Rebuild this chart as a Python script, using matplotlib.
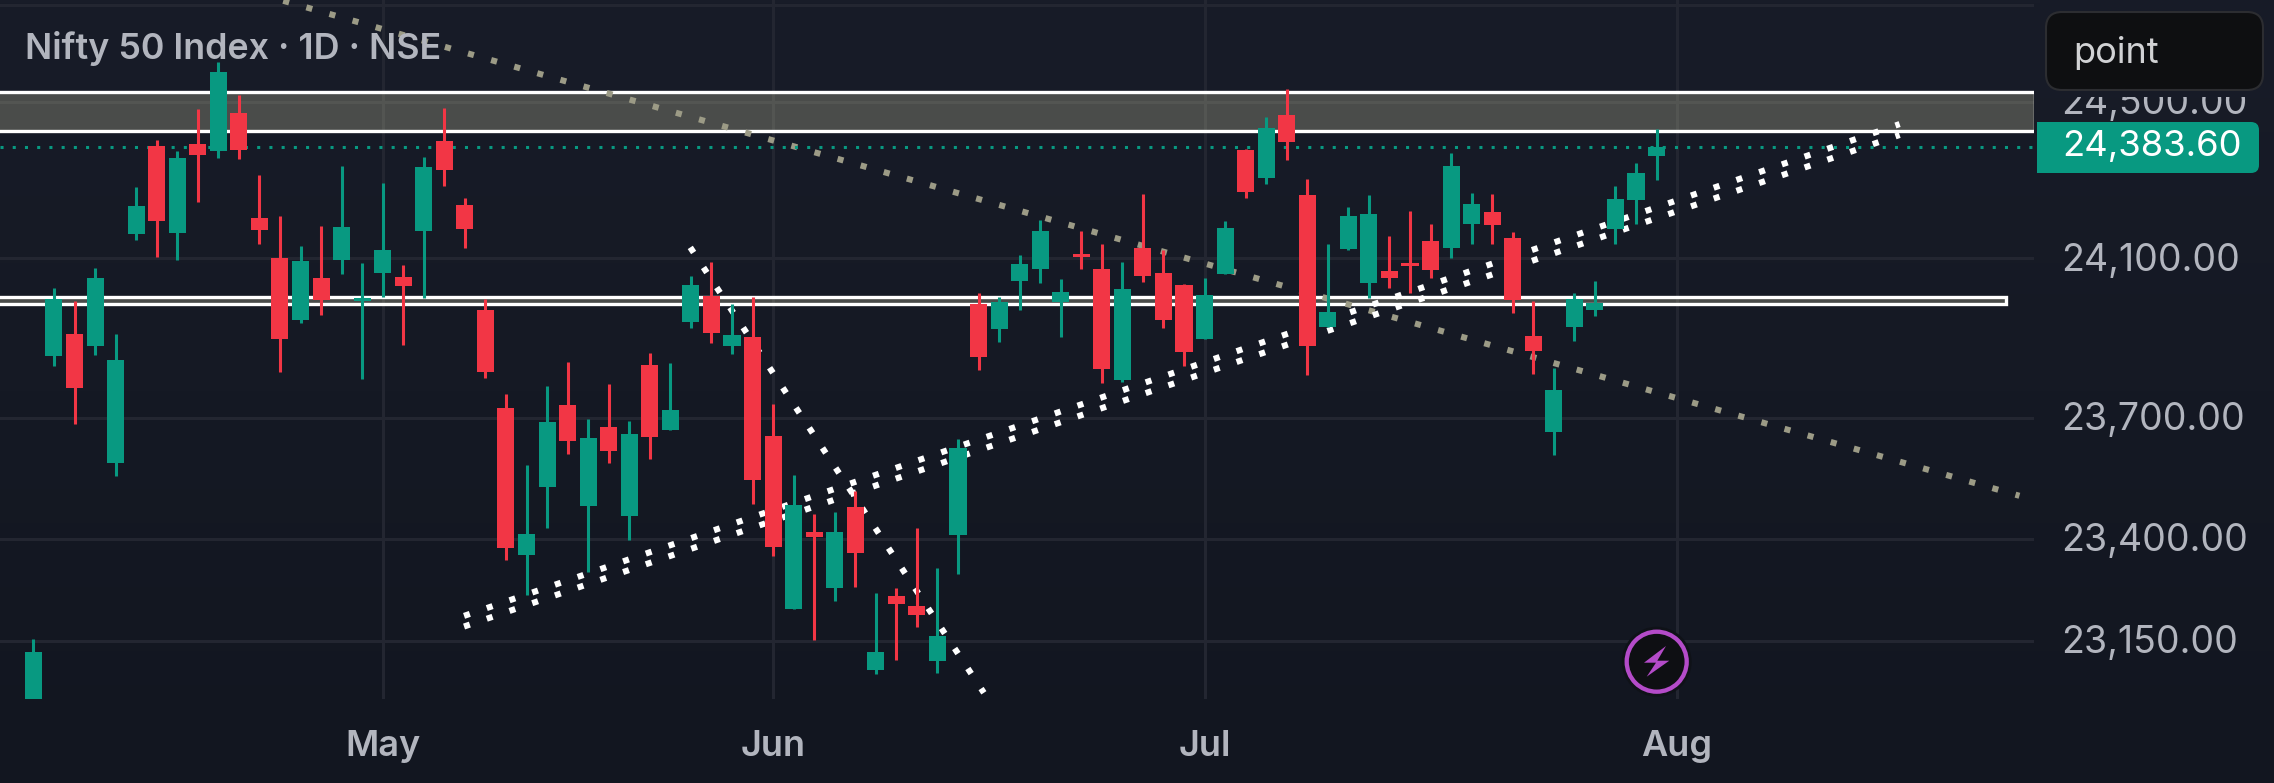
"""Nifty 50 daily candles, recreated from a chart screenshot."""
import matplotlib
matplotlib.use('Agg')
import numpy as np
import matplotlib.pyplot as plt
from matplotlib.patches import FancyBboxPatch, Rectangle, Circle, Polygon
from matplotlib.transforms import ScaledTranslation

plt.rcParams['font.family'] = ['Inter', 'DejaVu Sans']

GREEN = '#089981'
RED = '#f23645'
TEXT = '#b2b5be'
GRID = '#232631'
GREY_DOT = '#9c9b86'

W, H = 2274, 783

# one entry per trading day, left to right
opens = [23000, 23854, 23910, 23880, 23587, 24163, 24387, 24165, 24392, 24374, 24472, 24203, 24102, 23945,
         24051, 24096, 23992, 24063, 24053, 24170, 24399, 24236, 23970, 23724, 23360, 23528, 23731, 23481,
         23677, 23456, 23832, 23670, 23940, 24005, 23880, 23902, 23655, 23228, 23417, 23280, 23478, 23080,
         23260, 23236, 23101, 23410, 23985, 23922, 24043, 24073, 23990, 24112, 24073, 23794, 24127, 24063,
         24033, 23897, 24061, 24377, 24305, 24467, 24262, 23927, 24124, 24038, 24068, 24089, 24145, 24127,
         24188, 24218, 24152, 23905, 23665, 23927, 23970, 24175, 24249, 24361]
highs = [23155, 24026, 23992, 24076, 23910, 24282, 24402, 24374, 24482, 24603, 24518, 24313, 24208, 24132,
         24183, 24336, 24089, 24292, 24084, 24359, 24485, 24254, 23997, 23759, 23582, 23779, 23839, 23697,
         23784, 23692, 23862, 23837, 24056, 24091, 23985, 24002, 23734, 23558, 23461, 23466, 23518, 23267,
         23280, 23427, 23329, 23647, 24013, 24003, 24109, 24198, 24048, 24170, 24137, 24091, 24264, 24122,
         24036, 24051, 24195, 24379, 24462, 24534, 24302, 24137, 24231, 24262, 24157, 24221, 24188, 24369,
         24267, 24264, 24168, 23992, 23824, 24013, 24043, 24284, 24343, 24430]
lows = [23000, 23829, 23685, 23857, 23555, 24147, 24104, 24096, 24244, 24356, 24354, 24137, 23814, 23937,
        23957, 24061, 23796, 24002, 23882, 24000, 24284, 24127, 23799, 23348, 23262, 23427, 23610, 23319,
        23587, 23397, 23597, 23670, 23925, 23887, 23859, 23486, 23358, 23228, 23153, 23248, 23282, 23070,
        23104, 23184, 23073, 23314, 23819, 23890, 23970, 24038, 23902, 24073, 23786, 23789, 24041, 23925,
        23829, 23897, 24061, 24254, 24290, 24351, 23806, 23927, 24122, 24000, 24025, 24013, 24051, 24102,
        24137, 24137, 23962, 23809, 23607, 23892, 23955, 24137, 24188, 24300]
closes = [23124, 23997, 23774, 24051, 23844, 24233, 24195, 24356, 24364, 24578, 24377, 24173, 23897, 24094,
          23995, 24180, 24000, 24122, 24031, 24333, 24326, 24175, 23814, 23378, 23412, 23690, 23642, 23650,
          23617, 23660, 23652, 23719, 24033, 23912, 23907, 23545, 23380, 23483, 23405, 23417, 23365, 23124,
          23240, 23214, 23163, 23625, 23852, 23990, 24086, 24170, 24015, 24104, 23821, 24023, 24056, 23945,
          23864, 24008, 24178, 24269, 24433, 24397, 23880, 23965, 24208, 24213, 24051, 24081, 24071, 24336,
          24239, 24185, 23995, 23867, 23769, 23997, 23987, 24251, 24318, 24383.6]

last_price = 24383.60
y_ticks = [24750, 24500, 24100, 23700, 23400, 23150]
y_tick_labels = ['', '24,500.00', '24,100.00', '23,700.00', '23,400.00', '23,150.00']
month_pos = [17, 36, 57, 80]
month_labels = ['May', 'Jun', 'Jul', 'Aug']

# drawn zones (top price, bottom price, last day index)
zones = [(24525, 24425, 97.4), (24001.5, 23984.5, 96.0)]
# drawn trend lines as (day, price) end points
grey_line = ([12.16, 96.66], [24762, 23506])
channel_upper = ([20.96, 90.83], [23211, 24443])
channel_lower = ([20.96, 90.83], [23185, 24415])
steep_line = ([31.97, 46.26], [24128, 23024])

DOTS = (1, 2.93)  # 6px square every 24px at lw 4.4

fig = plt.figure(figsize=(W / 100, H / 100), dpi=100)

# background has a faint vertical fade
bg = fig.add_axes([0, 0, 1, 1], zorder=0)
bg.imshow(np.linspace(0, 1, 256).reshape(-1, 1), aspect='auto', extent=(0, 1, 0, 1),
          cmap=matplotlib.colors.LinearSegmentedColormap.from_list('bg', ['#181c28', '#121620']))
bg.axis('off')

ax = fig.add_axes([0, (H - 699) / H, 2034 / W, 699 / H], zorder=1)
ax.patch.set_alpha(0)
ax.set_yscale('log')
ax.set_xlim(-1.626, 97.37)
ax.set_ylim(23009, 24764)
for s in ax.spines.values():
    s.set_visible(False)

ax.yaxis.set_minor_locator(matplotlib.ticker.NullLocator())
ax.yaxis.tick_right()
ax.set_yticks(y_ticks, y_tick_labels)
ax.set_xticks(month_pos, month_labels)
ax.tick_params(axis='y', length=0, pad=19.5, labelsize=27, labelcolor=TEXT)
ax.tick_params(axis='x', length=0, pad=22.5, labelsize=26, labelcolor=TEXT)
for t in ax.get_xticklabels():
    t.set_fontweight('semibold')
# price labels sit a touch above their grid lines
nudge = ScaledTranslation(0, 1.5 / 100, fig.dpi_scale_trans)
for t in ax.get_yticklabels():
    t.set_transform(t.get_transform() + nudge)
ax.grid(True, color=GRID, lw=2.2, zorder=0)
ax.set_axisbelow(True)

# zones
for top, bot, end in zones:
    ax.add_patch(Rectangle((-3, bot), end + 3, top - bot, fc='#e6e2b8', alpha=0.25, ec='none', zorder=1))
    ax.plot([-3, end, end, -3], [top, top, bot, bot], color='white', lw=2.4, zorder=2,
            solid_joinstyle='miter')

# dotted drawings
ax.plot(*grey_line, color=GREY_DOT, lw=4.4, dashes=DOTS, zorder=3)
ax.plot(*channel_upper, color='white', lw=4.4, dashes=DOTS, zorder=3)
ax.plot(*channel_lower, color='white', lw=4.4, dashes=DOTS, zorder=3)
ax.plot(*steep_line, color='white', lw=4.4, dashes=DOTS, zorder=3)
ax.axhline(last_price, color=GREEN, lw=2.2, dashes=(1, 3), zorder=3)

# candles
days = np.arange(len(opens))
up = np.array(closes) >= np.array(opens)
colors = [GREEN if u else RED for u in up]
ax.vlines(days, lows, highs, colors=colors, lw=2.2, zorder=4)
ax.bar(days, np.abs(np.array(closes) - np.array(opens)), bottom=np.minimum(opens, closes),
       width=0.83, color=colors, zorder=5)

fig.text(25 / W, 1 - 49 / H, 'Nifty 50 Index · 1D · NSE', color=TEXT, fontsize=25.8, fontweight='semibold',
         va='center', zorder=6)

# top layer in pixel coordinates for the widgets
top = fig.add_axes([0, 0, 1, 1], zorder=5)
top.set_xlim(0, W)
top.set_ylim(H, 0)
top.axis('off')

# the overlay box sits on a soft panel that hides the top of the 24,500 label
top.add_patch(Rectangle((2040, 0), 234, 97, fc='#171b27', ec='none'))
top.add_patch(FancyBboxPatch((2046, 12), 217, 78, boxstyle='round,pad=0,rounding_size=16',
                             fc='#0e0f11', ec='#2c2d31', lw=1.5))
top.text(2073, 53, 'point', color='#d1d2d4', fontsize=26, va='center', ha='left')

top.add_patch(FancyBboxPatch((2037, 122), 222, 51, boxstyle='round,pad=0,rounding_size=8', fc=GREEN, ec='none'))
top.add_patch(Rectangle((2037, 122), 12, 51, fc=GREEN, ec='none'))
top.text(2062, 146.5, f'{last_price:,.2f}', color='white', fontsize=26.2, va='center', ha='left')

# lightning badge
top.add_patch(Circle((1656.7, 661.7), 35, fc='#0f1218', ec='none'))
top.add_patch(Circle((1656.7, 661.7), 30, fc='#0e0f13', ec='#b44bc9', lw=3.1))
top.add_patch(Polygon([(1666, 646), (1644, 662.7), (1656, 662.7), (1646.7, 676.7), (1669.3, 660.7), (1657.3, 660.7)],
                      fc='#b44bc9', ec='none'))

fig.savefig('out.png', dpi=100)
